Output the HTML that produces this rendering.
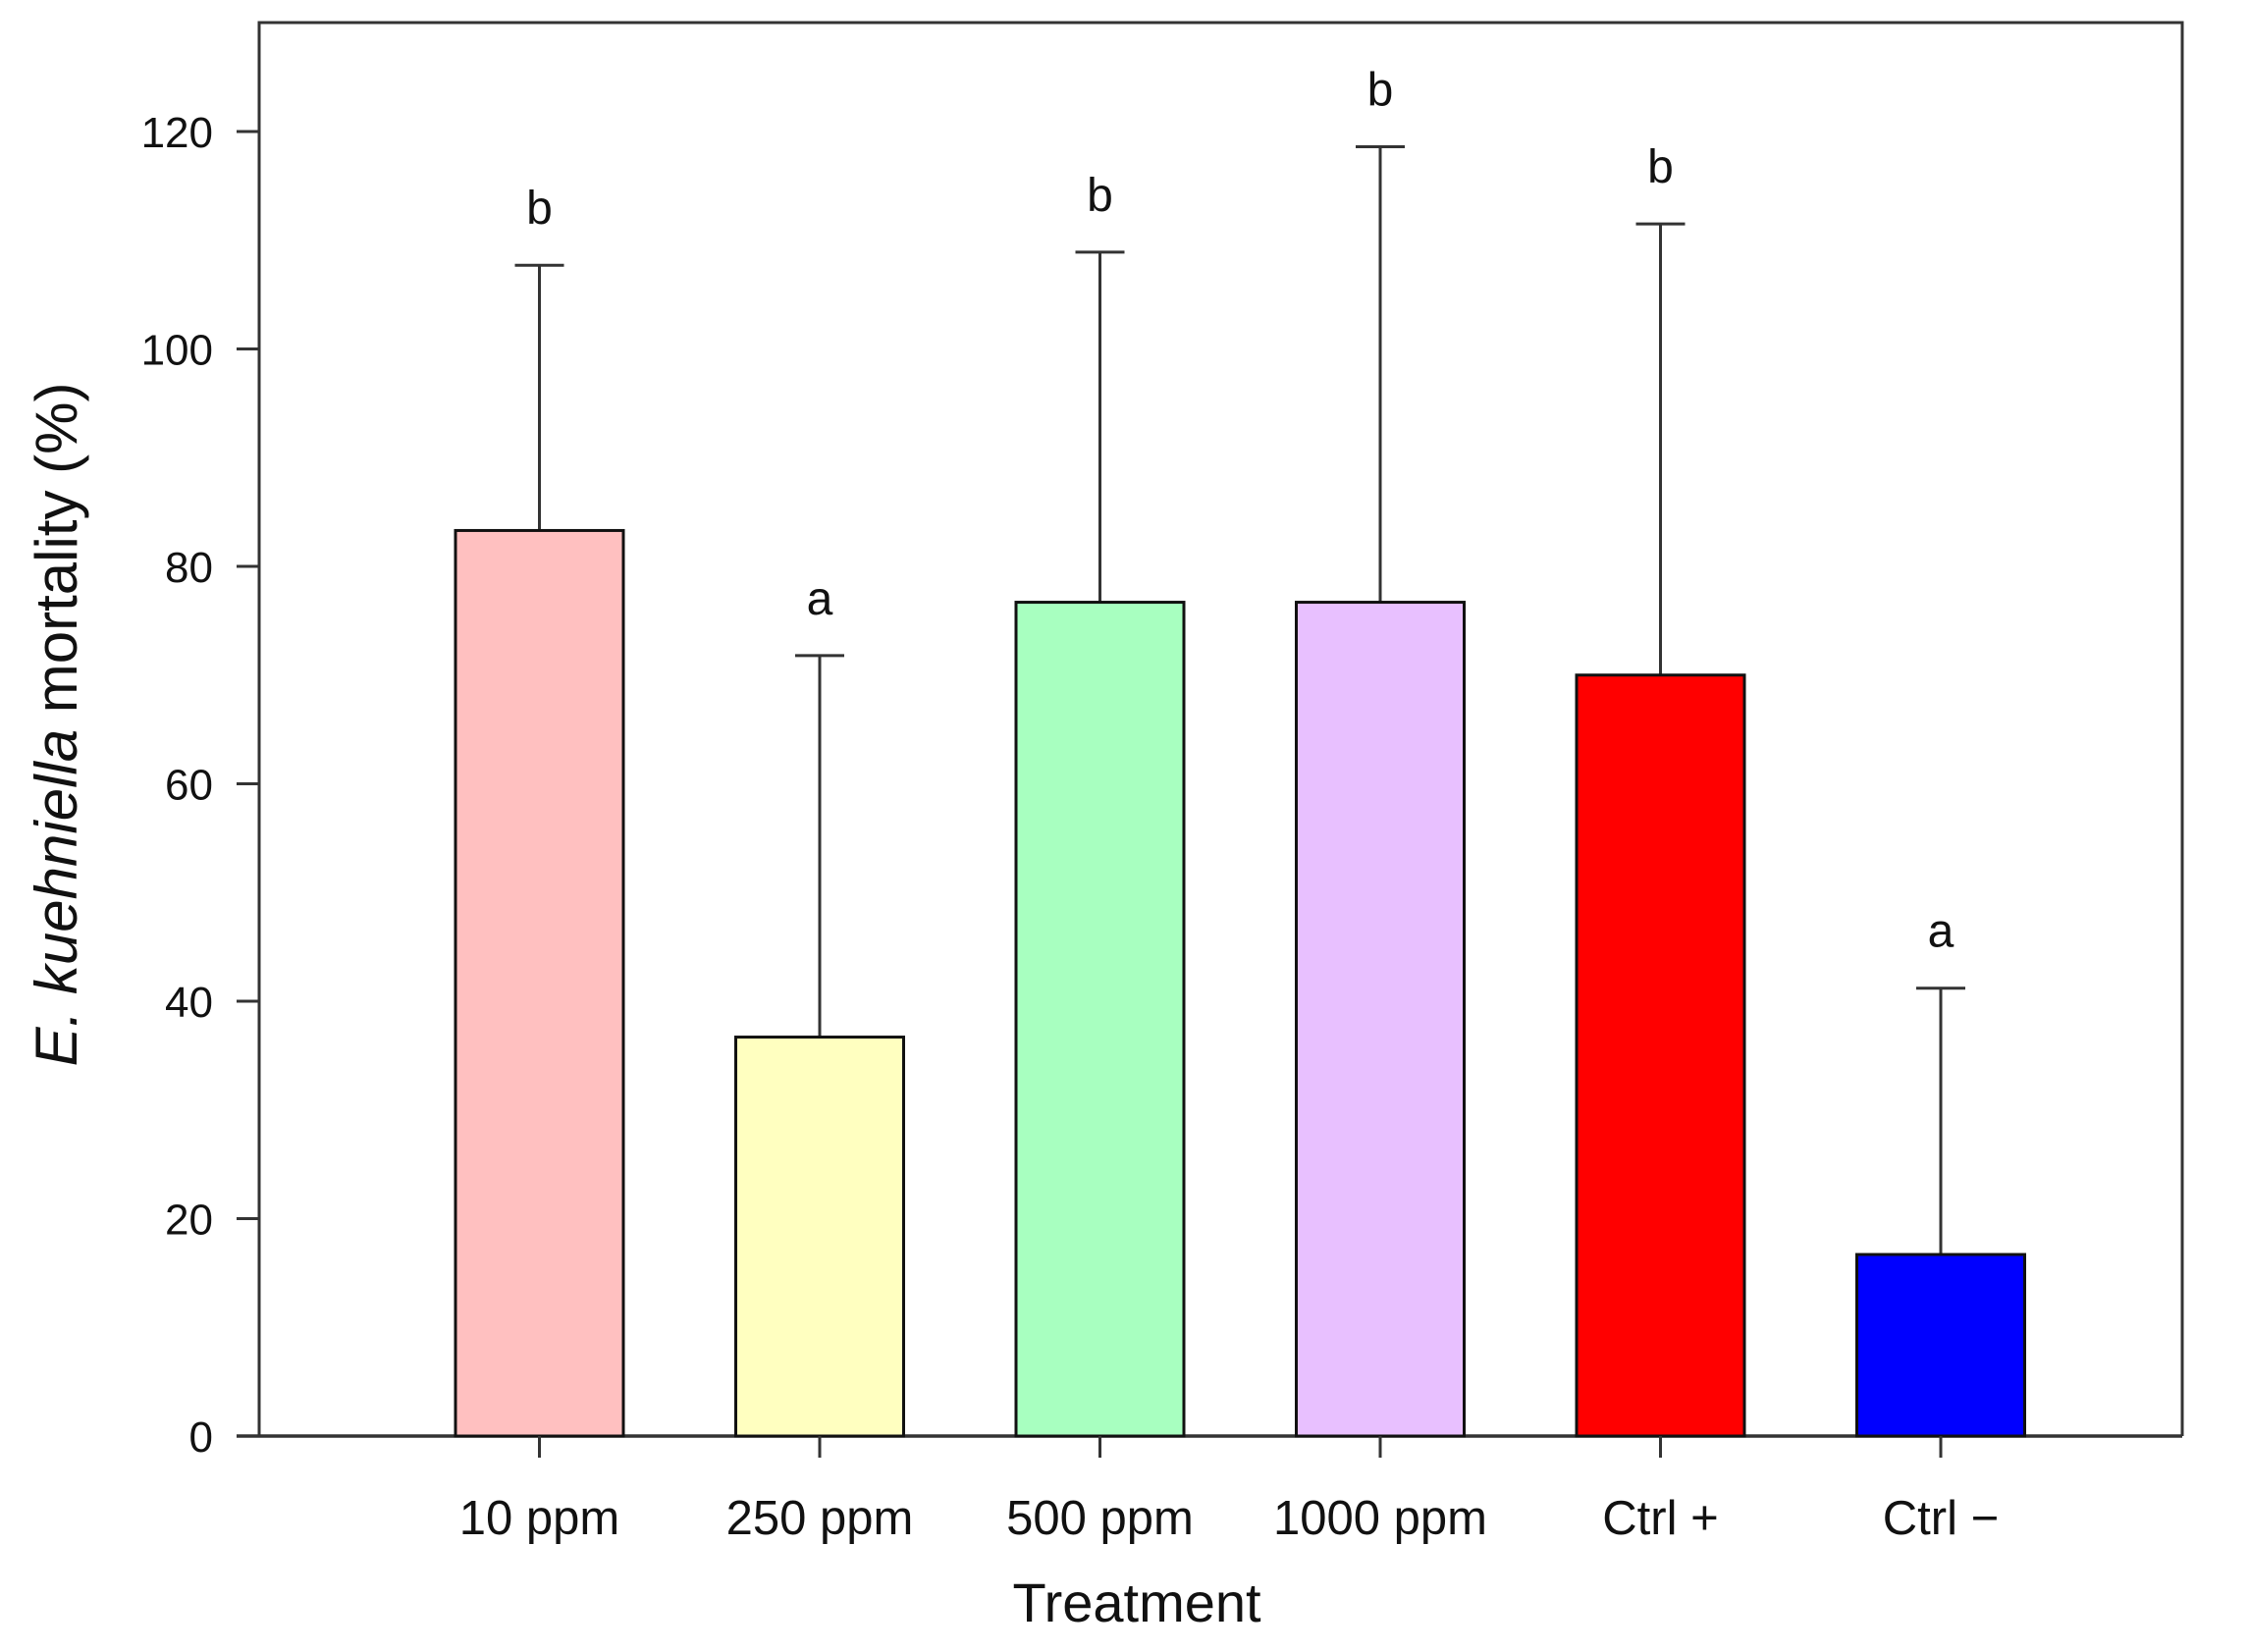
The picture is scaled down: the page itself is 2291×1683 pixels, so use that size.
<!DOCTYPE html>
<html><head><meta charset="utf-8"><style>
html,body{margin:0;padding:0;background:#fff;}
svg{display:block;font-family:"Liberation Sans",Arial,sans-serif;}
</style></head><body>
<svg id="chart" width="2291" height="1683" viewBox="0 0 2291 1683">
</svg>
<script>
const categories = ["10 ppm","250 ppm","500 ppm","1000 ppm","Ctrl +","Ctrl \u2212"];
const meanValues = [83.3, 36.7, 76.7, 76.7, 70.0, 16.7];
const errorValues = [24.4, 35.1, 32.2, 41.9, 41.5, 24.5];
const letters = ["b","a","b","b","b","a"];
const colors = ["#FFC0C0","#FFFFC0","#A8FFC0","#E8C0FF","#FF0000","#0000FF"];
const yTicks = [0,20,40,60,80,100,120];

const svgEl = document.getElementById('chart');
const NS = 'http://www.w3.org/2000/svg';
const plotLeft=264, plotRight=2223, plotTop=23, zeroY=1463, y120=134;
function yScale(v){ return zeroY - v*(zeroY-y120)/120; }
function xScale(i){ return 549.5 + i*285.5; }
const barW = 171;
function mk(tag, attrs){ const e=document.createElementNS(NS,tag); for(const k in attrs) e.setAttribute(k,attrs[k]); svgEl.appendChild(e); return e; }

const frame = mk('path',{d:`M${plotLeft},${zeroY} L${plotLeft},${plotTop} L${plotRight},${plotTop} L${plotRight},${zeroY}`,fill:'none',stroke:'#333',"stroke-width":3});


const xAxis = mk('line',{x1:241,y1:zeroY,x2:plotRight,y2:zeroY,stroke:'#333',"stroke-width":3.5});



yTicks.forEach(t=>{
  const y=yScale(t);
  const tk=mk('line',{x1:241,y1:y,x2:plotLeft,y2:y,stroke:'#333',"stroke-width":3});
  
  
  const lb=mk('text',{x:217,y:y+16,"text-anchor":"end","font-size":44,fill:'#111'});
  lb.textContent=t;
  
  
});

categories.forEach((c,i)=>{
  const cx=xScale(i), yt=yScale(meanValues[i]), ye=yScale(meanValues[i]+errorValues[i]);
  const eb=mk('line',{x1:cx,y1:yt,x2:cx,y2:ye,stroke:'#333',"stroke-width":3});
  
  
  const cap=mk('line',{x1:cx-25,y1:ye,x2:cx+25,y2:ye,stroke:'#333',"stroke-width":3});
  
  
  const bar=mk('rect',{x:cx-barW/2,y:yt,width:barW,height:zeroY-yt,fill:colors[i],stroke:'#111',"stroke-width":3});
  
  
  const lt=mk('text',{x:cx,y:ye-42,"text-anchor":"middle","font-size":48,fill:'#111'});
  lt.textContent=letters[i];
  
  
  const xt=mk('line',{x1:cx,y1:zeroY,x2:cx,y2:zeroY+22,stroke:'#333',"stroke-width":3});
  
  
  const xl=mk('text',{x:cx,y:1563,"text-anchor":"middle","font-size":49,fill:'#111'});
  xl.textContent=c;
  
  
});

const xTitle=mk('text',{x:1158,y:1652,"text-anchor":"middle","font-size":56,fill:'#111'});
xTitle.textContent='Treatment';



const yTitle=mk('text',{x:0,y:0,"text-anchor":"middle","font-size":60,fill:'#111',transform:'translate(78,738) rotate(-90)'});
const itPart=document.createElementNS(NS,'tspan');
itPart.setAttribute('font-style','italic');
itPart.textContent='E. kuehniella';
yTitle.appendChild(itPart);
yTitle.appendChild(document.createTextNode(' mortality (%)'));


</script>
</body></html>
